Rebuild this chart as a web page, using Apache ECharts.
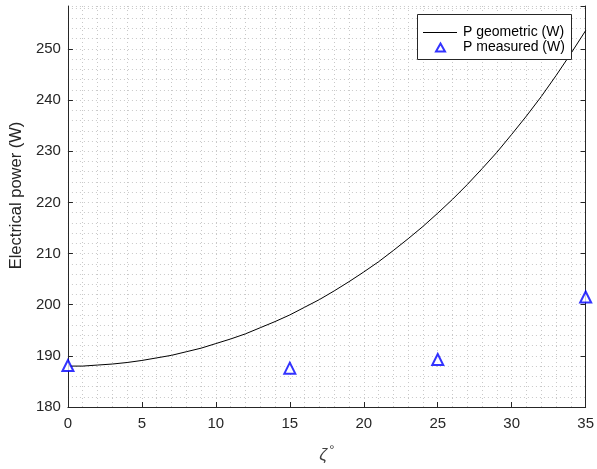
<!DOCTYPE html>
<html>
<head>
<meta charset="utf-8">
<script src="https://cdn.jsdelivr.net/npm/echarts@6/dist/echarts.min.js"></script>
<style>
  html, body { margin: 0; padding: 0; background: #fff; }
  #chart { width: 597px; height: 469px; }
</style>
</head>
<body>
<div id="chart"></div>
<script>
// Angle values (degrees) for the geometric power curve
const zeta = [0, 1, 2, 3, 4, 5, 6, 7, 8, 9, 10, 11, 12, 13, 14, 15, 16, 17,
  18, 19, 20, 21, 22, 23, 24, 25, 26, 27, 28, 29, 30, 31, 32, 33, 34, 35];
// Geometric electrical power (W)
const pGeometric = [188.0, 188.0, 188.2, 188.4, 188.7, 189.1, 189.6, 190.1,
  190.8, 191.5, 192.4, 193.3, 194.3, 195.5, 196.7, 198.0, 199.5, 201.0, 202.7,
  204.5, 206.4, 208.4, 210.6, 212.9, 215.3, 217.9, 220.6, 223.5, 226.6, 229.8,
  233.3, 236.9, 240.7, 244.8, 249.1, 253.6];
// Measured electrical power (W)
const zetaMeasured = [0, 15, 25, 35];
const pMeasured = [188.1, 187.6, 189.3, 201.5];

const xTicks = [0, 5, 10, 15, 20, 25, 30, 35];
const yTicks = [180, 190, 200, 210, 220, 230, 240, 250];

const font = 'Liberation Sans, Arial, Helvetica, sans-serif';
const axisColor = '#262626';
const gridColor = '#c8c8c8';
const yMin = 180, yMax = 258.4;

const chart = echarts.init(document.getElementById('chart'), null, { renderer: 'canvas' });

chart.setOption({
  animation: false,
  backgroundColor: '#ffffff',
  textStyle: { fontFamily: font },
  grid: { left: 67, right: 9, top: 6, bottom: 62, containLabel: false },
  // legend frame
  graphic: [
    {
      type: 'rect',
      z: 10,
      shape: { x: 417.5, y: 14.5, width: 154, height: 45 },
      style: { fill: '#ffffff', stroke: axisColor, lineWidth: 1 }
    }
  ],
  legend: [
    {
      orient: 'vertical',
      left: 423,
      top: 25.5,
      padding: 0,
      z: 11,
      itemWidth: 34,
      itemHeight: 1,
      textStyle: { fontFamily: font, fontSize: 14, color: '#000', padding: [0, 0, 0, 1] },
      data: [{ name: 'P geometric (W)', icon: 'rect', itemStyle: { color: '#000000' } }]
    },
    {
      orient: 'vertical',
      left: 435,
      top: 40.5,
      padding: 0,
      z: 11,
      itemWidth: 9,
      itemHeight: 8,
      textStyle: { fontFamily: font, fontSize: 14, color: '#000', padding: [5, 0, 0, 13] },
      data: [{ name: 'P measured (W)', icon: 'emptyTriangle' }]
    }
  ],
  xAxis: [
    {
      type: 'value',
      min: xTicks[0],
      max: xTicks[xTicks.length - 1],
      interval: xTicks[1] - xTicks[0],
      name: '{z|ζ}{d|°}',
      nameLocation: 'middle',
      nameGap: 37,
      nameTextStyle: {
        color: '#404040',
        rich: {
          z: { fontFamily: font, fontSize: 17, fontStyle: 'italic', color: '#404040' },
          d: { fontFamily: font, fontSize: 13, color: '#404040', padding: [0, 0, 10, 2] }
        }
      },
      axisLine: { show: true, onZero: false, lineStyle: { color: axisColor, width: 1 } },
      axisTick: { show: true, inside: true, length: 5, lineStyle: { color: axisColor } },
      axisLabel: { fontSize: 15, color: axisColor, margin: 9 },
      splitLine: { show: true, lineStyle: { color: gridColor, type: [1, 3] } },
      minorTick: { show: false, splitNumber: 5 },
      minorSplitLine: { show: true, lineStyle: { color: gridColor, type: [1, 3] } }
    }
  ],
  yAxis: [
    {
      type: 'value',
      min: yMin,
      max: yMax,
      interval: 10,
      name: 'Electrical power (W)',
      nameLocation: 'middle',
      nameGap: 40,
      nameTextStyle: { fontFamily: font, fontSize: 16.5, color: axisColor, padding: [0, 0, 0, 22] },
      axisLine: { show: true, onZero: false, lineStyle: { color: axisColor, width: 1 } },
      axisTick: { show: true, inside: true, length: 5, lineStyle: { color: axisColor } },
      axisLabel: {
        fontSize: 15, color: axisColor, margin: 7, showMaxLabel: false,
        formatter: v => (yTicks.indexOf(v) >= 0 ? String(v) : '')
      },
      splitLine: { show: false }
    },
    {
      // right-hand frame edge with inward ticks
      type: 'value',
      position: 'right',
      min: yMin,
      max: yMax,
      interval: 10,
      axisLine: { show: true, onZero: false, lineStyle: { color: axisColor, width: 1 } },
      axisTick: { show: true, inside: true, length: 5, lineStyle: { color: axisColor } },
      axisLabel: { show: false },
      splitLine: { show: false }
    },
    {
      // fine dotted horizontal grid every 2 W
      type: 'value',
      min: yMin,
      max: yMax,
      interval: 2,
      axisLine: { show: false },
      axisTick: { show: false },
      axisLabel: { show: false },
      splitLine: { show: true, lineStyle: { color: gridColor, type: [1, 3] } }
    }
  ],
  series: [
    {
      name: 'P geometric (W)',
      type: 'line',
      data: zeta.map((z, i) => [z, pGeometric[i]]),
      showSymbol: false,
      symbol: 'none',
      smooth: false,
      lineStyle: { color: '#000000', width: 1 },
      itemStyle: { color: '#000000' },
      z: 3
    },
    {
      name: 'P measured (W)',
      type: 'scatter',
      data: zetaMeasured.map((z, i) => [z, pMeasured[i]]),
      symbol: 'emptyTriangle',
      symbolSize: 11,
      clip: false,
      itemStyle: { color: '#0000ff', borderColor: '#0000ff', borderWidth: 1 },
      z: 4
    }
  ]
});
</script>
</body>
</html>
